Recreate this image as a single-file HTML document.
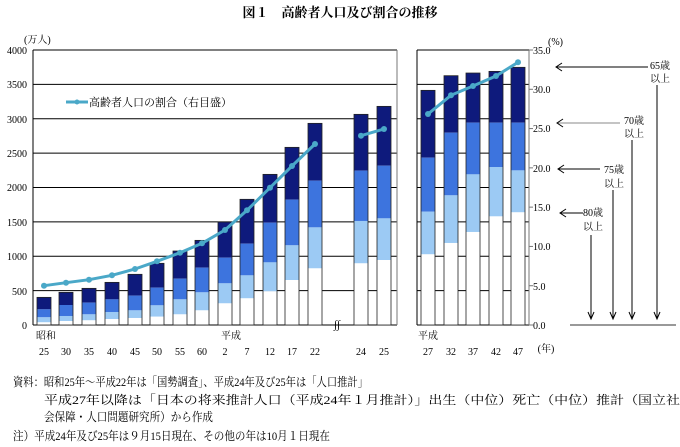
<!DOCTYPE html>
<html><head><meta charset="utf-8"><style>
body{margin:0;background:#fff}
svg text{font-family:"Liberation Serif","Noto Serif CJK SC","Noto Sans CJK JP",serif;fill:#000}
</style></head><body>
<svg id="s" width="680" height="442" viewBox="0 0 680 442" xmlns="http://www.w3.org/2000/svg">
<text x="340" y="17" font-size="13" font-weight="bold" text-anchor="middle" font-family="Liberation Sans,Noto Sans CJK JP,sans-serif">図１　高齢者人口及び割合の推移</text>
<g id="grid" stroke="#000" stroke-width="1"></g>
<g id="bars"></g>
<g font-size="10" text-anchor="end">
<text x="27" y="54">4000</text><text x="27" y="88">3500</text><text x="27" y="123">3000</text><text x="27" y="157">2500</text><text x="27" y="191">2000</text><text x="27" y="226">1500</text><text x="27" y="260">1000</text><text x="27" y="295">500</text><text x="27" y="329">0</text>
</g>
<text x="24" y="43" font-size="10">(万人)</text>
<g font-size="10">
<text x="533" y="54">35.0</text><text x="533" y="93">30.0</text><text x="533" y="132">25.0</text><text x="533" y="172">20.0</text><text x="533" y="211">15.0</text><text x="533" y="250">10.0</text><text x="533" y="290">5.0</text><text x="533" y="329">0.0</text>
<text x="548" y="45">(%)</text>
</g>
<g font-size="10" text-anchor="middle">
<text x="46" y="339">昭和</text><text x="231" y="339">平成</text><text x="428" y="339">平成</text>
<text x="44" y="355">25</text><text x="66" y="355">30</text><text x="89" y="355">35</text><text x="112" y="355">40</text><text x="135" y="355">45</text><text x="157" y="355">50</text><text x="180" y="355">55</text><text x="202" y="355">60</text><text x="225" y="355">2</text><text x="247" y="355">7</text><text x="270" y="355">12</text><text x="292" y="355">17</text><text x="315" y="355">22</text><text x="361" y="355">24</text><text x="384" y="355">25</text>
<text x="428" y="355">27</text><text x="451" y="355">32</text><text x="473" y="355">37</text><text x="496" y="355">42</text><text x="518" y="355">47</text>
<text x="546" y="352">(年)</text>
</g>
<text x="334" y="328" font-size="11">∫∫</text>
<g id="line"></g>
<line x1="66" y1="102" x2="88" y2="102" stroke="#4aa8c8" stroke-width="3"/><circle cx="77" cy="102" r="2.5" fill="#4aa8c8"/>
<text x="89" y="106" font-size="11">高齢者人口の割合（右目盛）</text>
<g stroke="#000" stroke-width="1" fill="none">
<line x1="556" y1="67" x2="648" y2="67"/><path d="M562 63 L556 67 L562 71"/>
<line x1="657" y1="85" x2="657" y2="319"/><path d="M654 312 L657 319 L660 312"/>
<line x1="557" y1="123" x2="620" y2="123" stroke="#888"/><path d="M563 119 L557 123 L563 127"/>
<line x1="632" y1="140" x2="632" y2="319"/><path d="M629 312 L632 319 L635 312"/>
<line x1="558" y1="169" x2="600" y2="169"/><path d="M564 165 L558 169 L564 173"/>
<line x1="613" y1="190" x2="613" y2="319"/><path d="M610 312 L613 319 L616 312"/>
<line x1="560" y1="213" x2="583" y2="213"/><path d="M566 209 L560 213 L566 217"/>
<line x1="591" y1="235" x2="591" y2="319"/><path d="M588 312 L591 319 L594 312"/>
<line x1="570" y1="325" x2="676" y2="325" stroke="#999" stroke-width="2"/>
</g>
<g font-size="10" text-anchor="middle">
<text x="660" y="69">65歳</text><text x="660" y="82">以上</text>
<text x="634" y="124">70歳</text><text x="634" y="137">以上</text>
<text x="614" y="173">75歳</text><text x="614" y="187">以上</text>
<text x="593" y="216">80歳</text><text x="593" y="230">以上</text>
</g>
<g font-size="12" font-family="Liberation Serif,Noto Serif CJK JP,serif">
<text x="13" y="386" textLength="355" lengthAdjust="spacingAndGlyphs">資料：昭和25年～平成22年は「国勢調査」、平成24年及び25年は「人口推計」</text>
<text x="44" y="404" textLength="636" lengthAdjust="spacingAndGlyphs">平成27年以降は「日本の将来推計人口（平成24年１月推計）」出生（中位）死亡（中位）推計（国立社</text>
<text x="44" y="421" textLength="169" lengthAdjust="spacingAndGlyphs">会保障・人口問題研究所）から作成</text>
<text x="13" y="440" textLength="317" lengthAdjust="spacingAndGlyphs">注）平成24年及び25年は９月15日現在、その他の年は10月１日現在</text>
</g>
</svg>
<script>
var NS="http://www.w3.org/2000/svg";
function el(p,t,a){var e=document.createElementNS(NS,t);for(var k in a)e.setAttribute(k,a[k]);document.getElementById(p).appendChild(e);return e;}
function Y(v){return 325-v*0.06875;}
for(var v=500;v<=4000;v+=500){var y=Y(v);el("grid","line",{x1:33,x2:397,y1:y,y2:y});el("grid","line",{x1:417,x2:529,y1:y,y2:y});}
el("grid","line",{x1:33,x2:33,y1:50,y2:325});
el("grid","line",{x1:33,x2:397,y1:325,y2:325});
el("grid","line",{x1:397,x2:397,y1:50,y2:325,stroke:"#777"});
el("grid","line",{x1:417,x2:417,y1:50,y2:325});
el("grid","line",{x1:417,x2:529,y1:325,y2:325});
el("grid","line",{x1:529,x2:529,y1:50,y2:325,stroke:"#777"});
for(var i=0;i<=35;i+=5){var y=325-i*275/35;el("grid","line",{x1:529,x2:533,y1:y,y2:y,stroke:"#777"});}
var D=[[44,402,228,112,39],[66,475,291,131,58],[89,533,325,155,68],[112,620,373,189,87],[135,737,427,213,102],[157,897,543,286,121],[180,1076,674,373,155],[202,1231,834,475,213],[225,1498,979,606,315],[247,1828,1183,722,388],[270,2191,1488,911,490],[292,2584,1823,1159,654],[315,2933,2099,1420,824],[361,3064,2245,1513,897],[384,3180,2317,1551,945],[428,3413,2434,1648,1028],[451,3626,2797,1886,1193],[473,3665,2943,2191,1353],[496,3689,2943,2298,1580],[518,3748,2943,2249,1639]];
var C=["#0e1a7c","#3d74de","#9ccaf4","#ffffff"];
D.forEach(function(d){for(var j=0;j<4;j++){var top=Y(d[j+1]),bot=j<3?Y(d[j+2]):325;el("bars","rect",{x:d[0]-7,y:top,width:14,height:bot-top,fill:C[j]});}
el("bars","rect",{x:d[0]-7,y:Y(d[1]),width:14,height:325-Y(d[1]),fill:"none",stroke:"#222","stroke-width":0.8});});
var L1=[[44,285.7],[66,282.7],[89,279.7],[112,275.3],[135,269],[157,261.3],[180,252.7],[202,243.3],[225,230],[247,210.3],[270,187.7],[292,166],[315,144]];
var L2=[[361,135.7],[384,129]],L3=[[428,114],[451,95.3],[473,86],[496,76],[518,62.3]];
[L1,L2,L3].forEach(function(L){el("line","polyline",{points:L.map(function(p){return p.join(",")}).join(" "),fill:"none",stroke:"#4aa8c8","stroke-width":3});L.forEach(function(p){el("line","circle",{cx:p[0],cy:p[1],r:3,fill:"#4aa8c8"});});});
</script>
</body></html>
